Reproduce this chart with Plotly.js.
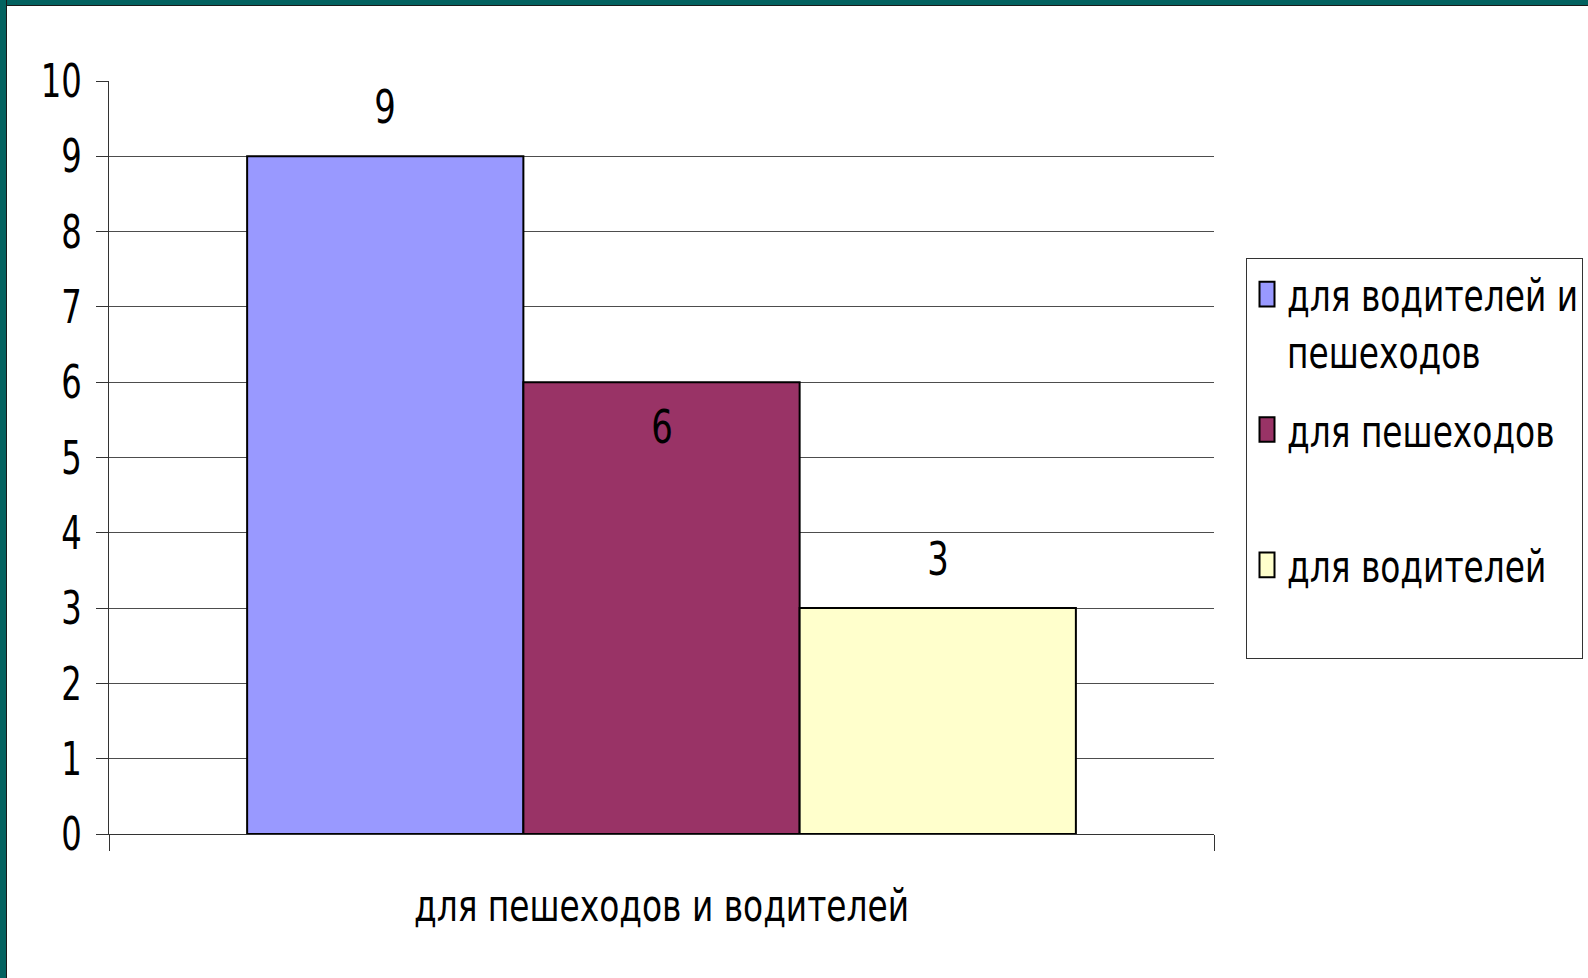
<!DOCTYPE html>
<html>
<head>
<meta charset="utf-8">
<script src="https://cdn.plot.ly/plotly-3.0.1.min.js"></script>
<style>
  html, body { margin: 0; padding: 0; background: #ffffff; }
  #chart { position: absolute; left: 0; top: 0; width: 1588px; height: 978px; }
  #chart text { font-stretch: condensed !important; }
  #bTop { position: absolute; left: 0; top: 0; width: 1588px; height: 5px; background: #036260; border-bottom: 1px solid #1a1a1a; pointer-events: none; }
  #bLeft { position: absolute; left: 0; top: 0; width: 6px; height: 978px; background: #036260; border-right: 1px solid #1a1a1a; pointer-events: none; }
</style>
</head>
<body>
<div id="chart"></div>
<div id="bTop"></div>
<div id="bLeft"></div>
<script>
// ---- data ----
const categories = ["для пешеходов и водителей"];
const seriesNames = ["для водителей и<br>пешеходов", "для пешеходов<br> ", "для водителей<br> "];
const seriesValues = [[9], [6], [3]];
const seriesColors = ["#9999FF", "#993366", "#FFFFCC"];
const labelInside = [false, true, false];
const yTickVals = [0, 1, 2, 3, 4, 5, 6, 7, 8, 9, 10];

const FONT = "'DejaVu Sans Condensed', 'DejaVu Sans', sans-serif";
const bargap = 0.25;
const n = seriesValues.length;

const traces = seriesValues.map((vals, i) => ({
  type: "bar",
  x: categories,
  y: vals,
  name: seriesNames[i],
  legendgroup: "g" + i,
  marker: { color: seriesColors[i], line: { color: "#000000", width: 2 } },
  hoverinfo: "y+name"
}));

const annotations = [];
seriesValues.forEach((vals, i) => {
  vals.forEach((v, j) => {
    annotations.push({
      x: j + (i - (n - 1) / 2) * (1 - bargap) / n,
      y: v,
      xref: "x", yref: "y",
      text: String(v),
      showarrow: false,
      yshift: labelInside[i] ? -45 : 49,
      font: { family: FONT, size: 46, color: "#000000" }
    });
  });
});

const layout = {
  width: 1588, height: 978,
  paper_bgcolor: "#ffffff", plot_bgcolor: "#ffffff",
  margin: { l: 109, r: 374, t: 81, b: 144 },
  barmode: "group", bargap: bargap, bargroupgap: 0,
  font: { family: FONT, color: "#000000" },
  showlegend: true,
  legend: {
    xref: "container", yref: "container",
    x: 1246 / 1588, y: 1 - 258 / 978,
    xanchor: "left", yanchor: "top",
    bordercolor: "#333333", borderwidth: 1, bgcolor: "#ffffff",
    font: { family: FONT, size: 44, color: "#000000" },
    valign: "top", traceorder: "grouped", tracegroupgap: 18
  },
  xaxis: {
    type: "category",
    showline: true, linecolor: "#333333", linewidth: 1,
    ticks: "outside", ticklen: 16, tickcolor: "#333333", tickson: "boundaries",
    tickfont: { family: FONT, size: 44, color: "#000000" },
    ticklabelstandoff: 33,
    showgrid: false, zeroline: false, fixedrange: true
  },
  yaxis: {
    range: [0, 10],
    tickvals: yTickVals,
    showline: true, linecolor: "#333333", linewidth: 1,
    ticks: "outside", ticklen: 12, tickcolor: "#333333",
    tickfont: { family: FONT, size: 46, color: "#000000" },
    ticklabelstandoff: 5,
    showgrid: true, gridcolor: "#4d4d4d", gridwidth: 1,
    zeroline: false, fixedrange: true
  },
  annotations: annotations
};

// horizontal compression of glyphs around each text's anchor point (style only)
function squish(sel, s) {
  document.querySelectorAll(sel).forEach(t => {
    const x = parseFloat(t.getAttribute("x")) || 0;
    const tr = t.getAttribute("transform") || "";
    t.setAttribute("transform", tr + " translate(" + x + ",0) scale(" + s + ",1) translate(" + (-x) + ",0)");
  });
}

Plotly.newPlot("chart", traces, layout, { displayModeBar: false, staticPlot: true }).then(() => {
  document.querySelectorAll("#chart .legendpoints path").forEach(p => {
    const t = p.getAttribute("transform") || "";
    p.setAttribute("transform", t + " scale(1.25,2.05)");
    p.style.vectorEffect = "non-scaling-stroke";
  });
  squish("#chart .ytick text", 0.78);
  squish("#chart .xtick text", 0.83);
  squish("#chart .annotation-text", 0.82);
  squish("#chart .legendtext", 0.83);
  const bg = document.querySelector("#chart .legend rect.bg");
  if (bg) bg.setAttribute("width", 336);
});
</script>
</body>
</html>
